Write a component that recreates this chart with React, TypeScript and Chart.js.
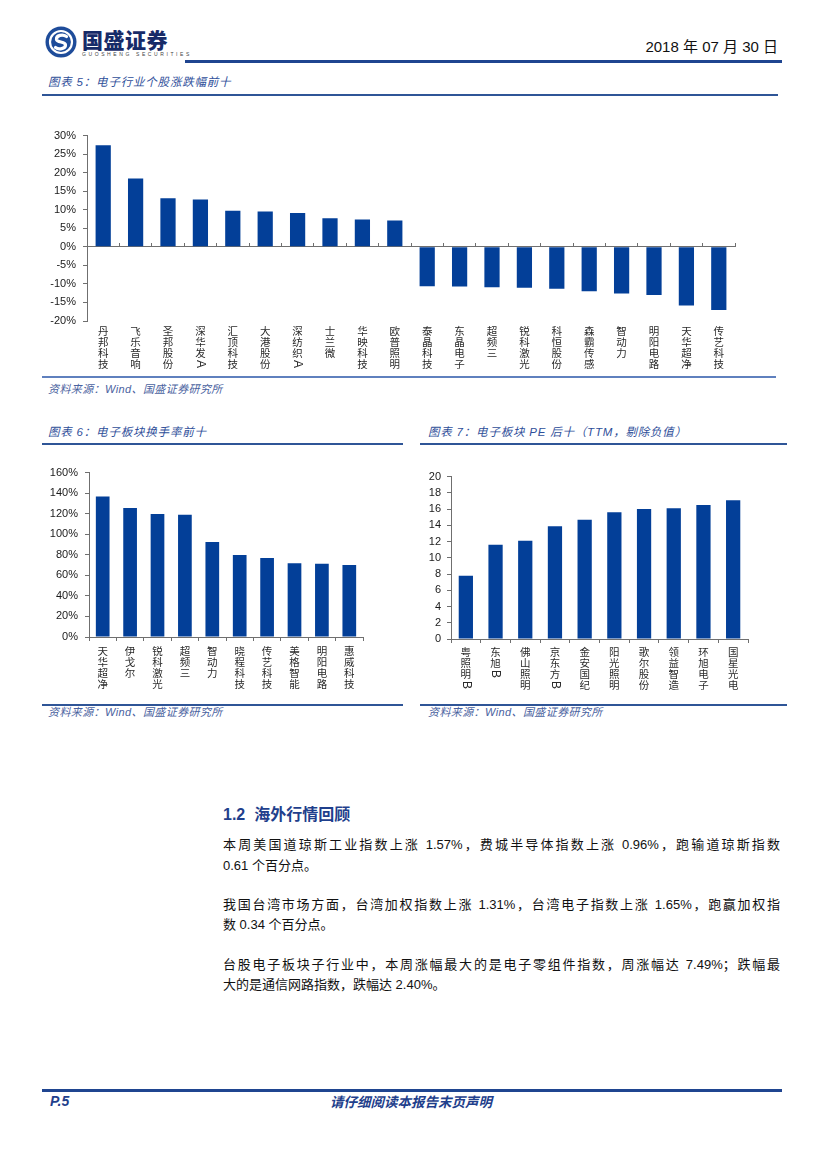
import React, { useEffect, useRef } from 'react';
import { Chart, registerables } from 'chart.js';

Chart.register(...registerables);

// ---------- data ----------
const stockNames = ['丹邦科技', '飞乐音响', '圣邦股份', '深华发A', '汇顶科技', '大港股份', '深纺织A', '士兰微', '华映科技', '欧普照明', '泰晶科技', '东晶电子', '超频三', '锐科激光', '科恒股份', '森霸传感', '智动力', '明阳电路', '天华超净', '传艺科技'];
const stockChanges = [27.4, 18.4, 13.1, 12.8, 9.7, 9.5, 9.1, 7.7, 7.4, 7.1, -10.6, -10.7, -10.9, -11.0, -11.3, -12.0, -12.6, -13.0, -15.8, -17.0];

const turnoverNames = ['天华超净', '伊戈尔', '锐科激光', '超频三', '智动力', '晓程科技', '传艺科技', '美格智能', '明阳电路', '惠威科技'];
const turnoverRates = [136.7, 125.6, 119.8, 118.9, 92.4, 79.7, 76.8, 71.7, 71.4, 70.1];

const peNames = ['粤照明B', '东旭B', '佛山照明', '京东方B', '金安国纪', '阳光照明', '歌尔股份', '领益智造', '环旭电子', '国星光电'];
const peValues = [7.8, 11.6, 12.1, 13.9, 14.7, 15.6, 16.0, 16.1, 16.5, 17.1];

const BAR = '#033F98';
const AXIS = '#6f6f6f';
const BLUE = '#1F3F8C';
const CAP = '#2F4F9A';
const CJK = '"Noto Sans CJK SC", sans-serif';
const MIX = '"Liberation Sans", "Noto Sans CJK SC", sans-serif';

type Spec = {
  labels: string[];
  values: number[];
  min: number;
  max: number;
  step: number;
  pct: boolean;
  zeroAxis: boolean;
  yWidth: number;
  tickPad: number;
  labelGap: number;
  barPct: number;
  padTop: number;
  padBottom: number;
  padRight: number;
};

const verticalLabels = (gap: number) => ({
  id: 'verticalLabels',
  afterDraw(chart: any) {
    const ctx = chart.ctx as CanvasRenderingContext2D;
    const xs = chart.scales.x;
    const labels = chart.data.labels as string[];
    ctx.save();
    ctx.fillStyle = '#2a2a2a';
    labels.forEach((lab, i) => {
      const x = xs.getPixelForValue(i);
      let y = chart.chartArea.bottom + gap;
      for (const ch of Array.from(lab)) {
        if (/[A-Za-z]/.test(ch)) {
          ctx.save();
          ctx.font = '12px "Liberation Sans", sans-serif';
          const w = ctx.measureText(ch).width;
          ctx.translate(x, y + w / 2 + 1);
          ctx.rotate(Math.PI / 2);
          ctx.textAlign = 'center';
          ctx.textBaseline = 'middle';
          ctx.fillText(ch, 0, 0);
          ctx.restore();
          y += w + 2;
        } else {
          ctx.font = '10.5px ' + CJK;
          ctx.textAlign = 'center';
          ctx.textBaseline = 'top';
          ctx.fillText(ch, x, y);
          y += 11;
        }
      }
    });
    ctx.restore();
  },
});

function BarChart({ spec, left, top, width, height }: { spec: Spec; left: number; top: number; width: number; height: number }) {
  const ref = useRef<HTMLCanvasElement>(null);
  useEffect(() => {
    const chart = new Chart(ref.current as HTMLCanvasElement, {
      type: 'bar',
      data: {
        labels: spec.labels,
        datasets: [
          {
            data: spec.values,
            backgroundColor: BAR,
            borderWidth: 0,
            barPercentage: spec.barPct,
            categoryPercentage: 1,
          },
        ],
      },
      options: {
        responsive: false,
        animation: false,
        devicePixelRatio: 1,
        layout: { padding: { top: spec.padTop, bottom: spec.padBottom, right: spec.padRight, left: 0 } },
        plugins: { legend: { display: false }, tooltip: { enabled: false } },
        scales: {
          x: {
            position: spec.zeroAxis ? ({ y: 0 } as any) : 'bottom',
            grid: {
              display: true,
              drawOnChartArea: false,
              drawTicks: true,
              tickLength: spec.zeroAxis ? -4 : 4,
              color: AXIS,
              offset: true,
            },
            border: { display: true, color: AXIS },
            ticks: { display: false },
            afterFit: (s: any) => {
              s.height = 0;
            },
          },
          y: {
            min: spec.min,
            max: spec.max,
            ticks: {
              stepSize: spec.step,
              padding: spec.tickPad,
              color: '#1a1a1a',
              font: { family: '"Liberation Sans", sans-serif', size: 11 },
              callback: (v: any) => (spec.pct ? v + '%' : String(v)),
            },
            grid: { display: true, drawOnChartArea: false, drawTicks: true, tickLength: 4, color: AXIS },
            border: { display: true, color: AXIS },
            afterFit: (s: any) => {
              s.width = spec.yWidth;
            },
          },
        },
      },
      plugins: [verticalLabels(spec.labelGap)],
    } as any);
    return () => chart.destroy();
  }, []);
  return <canvas ref={ref} width={width} height={height} style={{ position: 'absolute', left, top, width, height }} />;
}

const abs = (s: React.CSSProperties): React.CSSProperties => ({ position: 'absolute', ...s });

function Line({ x1, x2, y, h, color }: { x1: number; x2: number; y: number; h: number; color: string }) {
  return <div style={abs({ left: x1, top: y - h / 2, width: x2 - x1, height: h, background: color })} />;
}

function Caption({ x, y, text }: { x: number; y: number; text: string }) {
  return (
    <div style={abs({ left: x, top: y - 8, height: 16, lineHeight: '16px', fontSize: 11.5, letterSpacing: 0.8, fontStyle: 'italic', color: CAP, fontFamily: MIX, whiteSpace: 'nowrap' })}>
      {text}
    </div>
  );
}

function Source({ x, y }: { x: number; y: number }) {
  return (
    <div style={abs({ left: x, top: y - 8, height: 16, lineHeight: '16px', fontSize: 11, letterSpacing: 0.4, fontStyle: 'italic', color: '#4A62A0', fontFamily: MIX, whiteSpace: 'nowrap' })}>
      资料来源：Wind、国盛证券研究所
    </div>
  );
}

function TextLine({ y, text, justify }: { y: number; text: string; justify?: boolean }) {
  return (
    <div
      style={abs({
        left: 223,
        top: y - 10,
        width: 557,
        height: 20,
        lineHeight: '20px',
        fontSize: 13,
        color: '#111',
        fontFamily: MIX,
        textAlign: justify ? 'justify' : 'left',
        textAlignLast: justify ? 'justify' : 'auto',
      } as any)}
    >
      {text}
    </div>
  );
}

const chart1: Spec = {
  labels: stockNames,
  values: stockChanges,
  min: -20,
  max: 30,
  step: 5,
  pct: true,
  zeroAxis: true,
  yWidth: 47,
  tickPad: 7,
  labelGap: 5,
  barPct: 0.47,
  padTop: 7,
  padBottom: 50,
  padRight: 10,
};

const chart2: Spec = {
  labels: turnoverNames,
  values: turnoverRates,
  min: 0,
  max: 160,
  step: 20,
  pct: true,
  zeroAxis: false,
  yWidth: 49,
  tickPad: 7,
  labelGap: 9,
  barPct: 0.5,
  padTop: 7,
  padBottom: 55,
  padRight: 10,
};

const chart3: Spec = {
  labels: peNames,
  values: peValues,
  min: 0,
  max: 20,
  step: 2,
  pct: false,
  zeroAxis: false,
  yWidth: 41,
  tickPad: 6,
  labelGap: 8,
  barPct: 0.48,
  padTop: 8,
  padBottom: 60,
  padRight: 10,
};

export default function App() {
  return (
    <div style={abs({ left: 0, top: 0, width: 827, height: 1169, background: '#fff', overflow: 'hidden', fontFamily: MIX })}>
      {/* header */}
      <svg width="32" height="32" viewBox="0 0 32 32" style={abs({ left: 45, top: 26 })}>
        <circle cx="16" cy="16" r="15.5" fill="#1E4C9A" />
        <circle cx="16" cy="16" r="11" fill="none" stroke="#fff" strokeWidth="2.2" />
        <path d="M21.5 10.5 C18 8 11 9 11.5 13.5 C12 17 20.5 15 20.5 19 C20.5 23 13.5 24 10.5 21.5" stroke="#fff" strokeWidth="3.2" fill="none" strokeLinecap="round" />
      </svg>
      <div style={abs({ left: 82, top: 26, fontSize: 21, lineHeight: '26px', fontWeight: 900, color: '#172B68', fontFamily: CJK, letterSpacing: 0.5, whiteSpace: 'nowrap' })}>国盛证券</div>
      <div style={abs({ left: 82, top: 51, fontSize: 5, lineHeight: '6px', letterSpacing: 2.6, color: '#444', fontFamily: '"Liberation Sans", sans-serif', whiteSpace: 'nowrap' })}>GUOSHENG SECURITIES</div>
      <div style={abs({ right: 49, top: 38, fontSize: 15, lineHeight: '18px', color: '#111', fontFamily: '"Liberation Sans Narrow", "Liberation Sans", "Noto Sans CJK SC", sans-serif', whiteSpace: 'nowrap' })}>
        2018 年 07 月 30 日
      </div>
      <Line x1={185} x2={782} y={61} h={3} color="#1F4590" />

      {/* chart 5 */}
      <Caption x={48} y={82} text="图表 5：电子行业个股涨跌幅前十" />
      <Line x1={42} x2={778} y={95} h={1.5} color="#2F5597" />
      <BarChart spec={chart1} left={40} top={122} width={705} height={249} />
      <Line x1={42} x2={776} y={377} h={1.5} color="#5F80BE" />
      <Source x={48} y={389} />

      {/* chart 6 */}
      <Caption x={48} y={432} text="图表 6：电子板块换手率前十" />
      <Line x1={42} x2={403} y={444} h={1.5} color="#2F5597" />
      <BarChart spec={chart2} left={40} top={459} width={333} height={233} />
      <Line x1={42} x2={403} y={705} h={1.5} color="#2F5597" />
      <Source x={48} y={712} />

      {/* chart 7 */}
      <Caption x={428} y={432} text="图表 7：电子板块 PE 后十（TTM，剔除负值）" />
      <Line x1={420} x2={787} y={444} h={1.5} color="#2F5597" />
      <BarChart spec={chart3} left={410} top={464} width={348} height={235} />
      <Line x1={420} x2={787} y={705} h={1.5} color="#2F5597" />
      <Source x={428} y={712} />

      {/* section text */}
      <div style={abs({ left: 223, top: 805, fontSize: 16, lineHeight: '20px', fontWeight: 700, color: BLUE, fontFamily: MIX, whiteSpace: 'nowrap' })}>
        1.2&nbsp;&nbsp;海外行情回顾
      </div>
      <TextLine y={845} justify text="本周美国道琼斯工业指数上涨 1.57%，费城半导体指数上涨 0.96%，跑输道琼斯指数" />
      <TextLine y={866} text="0.61 个百分点。" />
      <TextLine y={905} justify text="我国台湾市场方面，台湾加权指数上涨 1.31%，台湾电子指数上涨 1.65%，跑赢加权指" />
      <TextLine y={925} text="数 0.34 个百分点。" />
      <TextLine y={965} justify text="台股电子板块子行业中，本周涨幅最大的是电子零组件指数，周涨幅达 7.49%；跌幅最" />
      <TextLine y={985} text="大的是通信网路指数，跌幅达 2.40%。" />

      {/* footer */}
      <Line x1={42} x2={782} y={1090} h={3} color="#1F4590" />
      <div style={abs({ left: 50, top: 1092, fontSize: 14, lineHeight: '18px', fontWeight: 700, fontStyle: 'italic', color: BLUE, fontFamily: '"Liberation Sans", sans-serif' })}>P.5</div>
      <div style={abs({ left: 330, top: 1092, fontSize: 13.5, lineHeight: '18px', fontWeight: 700, fontStyle: 'italic', color: BLUE, fontFamily: CJK, whiteSpace: 'nowrap' })}>
        请仔细阅读本报告末页声明
      </div>
    </div>
  );
}
